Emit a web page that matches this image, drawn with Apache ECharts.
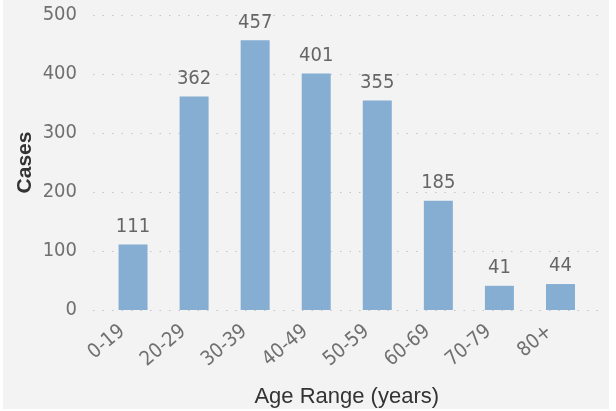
<!DOCTYPE html>
<html><head><meta charset="utf-8">
<script src="https://cdn.jsdelivr.net/npm/echarts@6/dist/echarts.min.js"></script>
<style>html,body{margin:0;padding:0;background:#fff}#c{width:616px;height:411px}</style>
</head><body><div id="c"></div>
<script>
const categories = ['0-19','20-29','30-39','40-49','50-59','60-69','70-79','80+'];
const cases = [111, 362, 457, 401, 355, 185, 41, 44];
const yTicks = [0, 100, 200, 300, 400, 500];

const numFont = '"Liberation Sans Narrow", "DejaVu Sans Condensed", sans-serif';
const titleFont = '"Liberation Sans", sans-serif';
const chart = echarts.init(document.getElementById('c'));
chart.setOption({
  backgroundColor: '#ffffff',
  graphic: [{type:'rect', shape:{x:3,y:0,width:606,height:409}, style:{fill:'#f3f3f3'}, z:-10}],
  grid: [
    {left: 93, right: 16, top: 15, bottom: 101, containLabel:false, outerBoundsMode:'none'},
    {left: 102.5, right: 25, top: 15, bottom: 101, containLabel:false, outerBoundsMode:'none'}
  ],
  xAxis: [
    {gridIndex:0, type:'value', min:0, max:1, show:false},
    {gridIndex:1, type:'category', data: categories,
     axisLine:{show:false}, axisTick:{show:false},
     axisLabel:{rotate:40, color:'#707070', fontSize:20, fontFamily:numFont, margin:10, padding:[0,14,0,0]},
     name:'Age Range (years)', nameLocation:'middle', nameGap:76, nameMoveOverlap:false,
     nameTextStyle:{color:'#333', fontSize:22, fontFamily:titleFont}},
  ],
  yAxis: [
    {gridIndex:0, type:'value', min:yTicks[0], max:yTicks[yTicks.length-1], interval:100,
     axisLine:{show:false}, axisTick:{show:false},
     axisLabel:{color:'#707070', fontSize:20, fontFamily:numFont, margin:16},
     splitLine:{show:true, lineStyle:{color:'#c4c4c4', width:1, type:[1.5,8]}},
     name:'Cases', nameLocation:'middle', nameGap:57, nameMoveOverlap:false,
     nameTextStyle:{color:'#333', fontSize:21, fontWeight:'bold', fontFamily:titleFont}},
    {gridIndex:1, type:'value', min:yTicks[0], max:yTicks[yTicks.length-1], show:false, splitLine:{show:false}}
  ],
  series: [{
    type:'bar', xAxisIndex:1, yAxisIndex:1, data: cases, barWidth: 29,
    itemStyle:{color:'#86aed3'},
    label:{show:true, position:'top', distance:8, color:'#666', fontSize:20, fontFamily:numFont}
  }]
});
</script></body></html>
